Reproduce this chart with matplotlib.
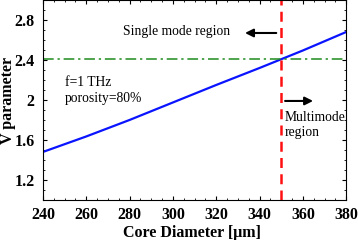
import matplotlib.pyplot as plt
from matplotlib.ticker import MultipleLocator

# Data
diameter = [240, 260, 280, 300, 320, 340, 360, 380]
v_param = [1.48, 1.635, 1.80, 1.975, 2.15, 2.32, 2.495, 2.68]
v_cutoff = 2.405
d_cutoff = 350

plt.rcParams['font.family'] = ['Liberation Serif', 'DejaVu Serif']

fig = plt.figure(figsize=(3.58, 2.4), dpi=100)
ax = fig.add_axes([0.12, 0.167, 0.847, 0.833])

ax.plot(diameter, v_param, color='#0a14ff', linewidth=1.6)
ax.axhline(v_cutoff, color='#1e8c1e', linestyle=(0, (7, 2.5, 1.5, 2.5)), linewidth=1.1)
ax.axvline(d_cutoff, color='#ff1010', linestyle=(0, (4, 2.5)), linewidth=1.8)

ax.set_xlim(240, 380)
ax.set_ylim(1.0, 3.0)
ax.xaxis.set_major_locator(MultipleLocator(20))
ax.xaxis.set_minor_locator(MultipleLocator(5))
ax.yaxis.set_minor_locator(MultipleLocator(0.1))
ax.set_yticks([1.2, 1.6, 2.0, 2.4, 2.8])
ax.set_yticklabels(['1.2', '1.6', '2', '2.4', '2.8'])
ax.tick_params(which='both', direction='in', top=True, right=True)
ax.tick_params(which='major', length=3, width=0.8, labelsize=11.5)
ax.tick_params(axis='x', which='major', pad=5)
ax.tick_params(axis='y', which='major', pad=6)
ax.tick_params(which='minor', length=1.5, width=0.6)
for lbl in ax.get_xticklabels() + ax.get_yticklabels():
    lbl.set_fontweight('bold')

ax.set_xlabel('Core Diameter [μm]', fontsize=11.5, fontweight='bold')
ax.set_ylabel('V parameter', fontsize=11.5, fontweight='bold')
ax.xaxis.set_label_coords(0.49, -0.125)
ax.yaxis.set_label_coords(-0.088, 0.5)

ax.text(277, 2.68, 'Single mode region', fontsize=9.8, va='center')
ax.annotate('', xy=(332, 2.67), xytext=(349, 2.67),
            arrowprops=dict(arrowstyle='-|>', color='black', lw=1.5, mutation_scale=12))
ax.text(250, 2.17, 'f=1 THz', fontsize=9.8, va='center')
ax.text(250, 2.01, 'porosity=80%', fontsize=9.8, va='center')
ax.annotate('', xy=(366, 1.99), xytext=(350.5, 1.99),
            arrowprops=dict(arrowstyle='-|>', color='black', lw=1.5, mutation_scale=12))
ax.text(351.5, 1.82, 'Multimode', fontsize=9.8, va='center')
ax.text(351.5, 1.67, 'region', fontsize=9.8, va='center')

fig.savefig('out.png', dpi=100)
